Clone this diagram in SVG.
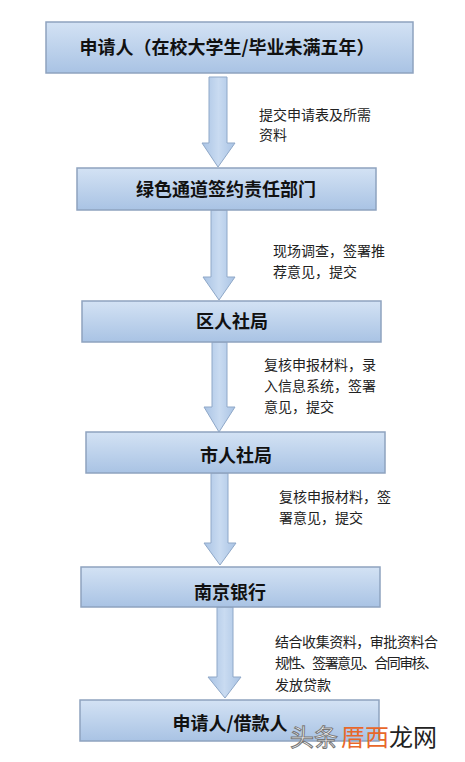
<svg xmlns="http://www.w3.org/2000/svg" width="465" height="762" viewBox="0 0 465 762">
<defs>
<linearGradient id="bg" x1="0" y1="0" x2="0" y2="1">
<stop offset="0" stop-color="#d3e2f4"/>
<stop offset="1" stop-color="#a9c3e4"/>
</linearGradient>
<linearGradient id="ag" x1="0" y1="0" x2="1" y2="0">
<stop offset="0" stop-color="#a9c3e4"/>
<stop offset="0.5" stop-color="#c9dbf1"/>
<stop offset="1" stop-color="#a9c3e4"/>
</linearGradient>
</defs>
<style>
.box{fill:url(#bg);stroke:#8ea3bf;stroke-width:1.5}
.arr{fill:url(#ag);stroke:#8fa8c8;stroke-width:1}
.t{font-family:"Noto Sans CJK SC","Liberation Sans",sans-serif;font-weight:bold;font-size:18px;fill:#111;text-anchor:middle}
.l{font-family:"Noto Sans CJK SC","Liberation Sans",sans-serif;font-size:14px;fill:#222}
.wm{font-family:"Noto Sans CJK SC",sans-serif;font-size:24px}
</style>
<rect width="465" height="762" fill="#fff"/>
<g id="connectors">
<path class="arr" d="M209,77 H227 V143 H235 L218,167 L202,143 H209 Z"/>
<path class="arr" d="M211,210 H227 V277 H235 L219,300 L203,277 H211 Z"/>
<path class="arr" d="M212,342 H227 V407 H235 L219,432 L204,407 H212 Z"/>
<path class="arr" d="M211,473 H228 V543 H236 L220,565 L204,543 H211 Z"/>
<path class="arr" d="M217,607 H233 V677 H241 L225,698 L208,677 H217 Z"/>
<text class="l" x="259" y="120">提交申请表及所需</text>
<text class="l" x="259" y="140">资料</text>
<text class="l" x="273" y="256">现场调查，签署推</text>
<text class="l" x="273" y="277">荐意见，提交</text>
<text class="l" x="264" y="370">复核申报材料，录</text>
<text class="l" x="264" y="391">入信息系统，签署</text>
<text class="l" x="264" y="412">意见，提交</text>
<text class="l" x="279" y="502">复核申报材料，签</text>
<text class="l" x="279" y="523">署意见，提交</text>
<text class="l" x="275" y="647" textLength="163">结合收集资料，审批资料合</text>
<text class="l" x="275" y="668" textLength="163">规性、签署意见、合同审核、</text>
<text class="l" x="275" y="690">发放贷款</text>
</g>
<g id="n1"><rect class="box" x="46" y="22" width="367" height="51"/><text class="t" x="227" y="54">申请人（在校大学生/毕业未满五年）</text></g>
<g id="n2"><rect class="box" x="77" y="168" width="299" height="42"/><text class="t" x="226" y="196">绿色通道签约责任部门</text></g>
<g id="n3"><rect class="box" x="82" y="301" width="299" height="41"/><text class="t" x="232" y="328">区人社局</text></g>
<g id="n4"><rect class="box" x="86" y="432" width="299" height="41"/><text class="t" x="236" y="462">市人社局</text></g>
<g id="n5"><rect class="box" x="81" y="567" width="299" height="40"/><text class="t" x="230" y="599">南京银行</text></g>
<g id="n6"><rect class="box" x="80" y="700" width="299" height="41"/><text class="t" x="230" y="730">申请人/借款人</text></g>
<g id="watermark">
<text class="wm" x="290" y="746" fill="#fff" stroke="#777" stroke-width="1">头条</text>
<text class="wm" x="341" y="746" fill="#e8672a">厝西</text>
<text class="wm" x="389" y="746" fill="#222">龙网</text>
</g>
</svg>
